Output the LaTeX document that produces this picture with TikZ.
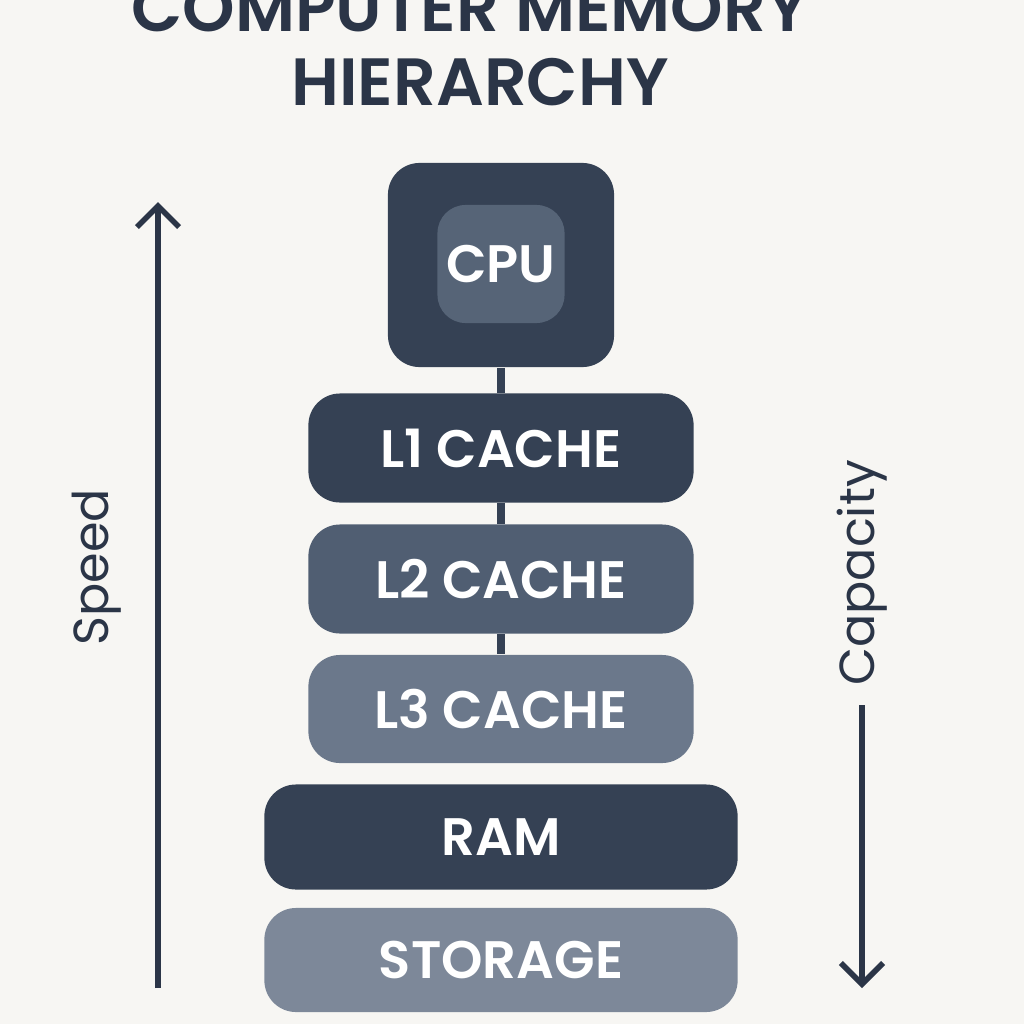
\documentclass[tikz,border=0pt]{standalone}
\usepackage{fontspec}
\setmainfont{Poppins}[BoldFont={Poppins SemiBold}]
\usetikzlibrary{arrows.meta}
\definecolor{bgcol}{HTML}{F7F6F3}
\definecolor{navy}{HTML}{2B3547}
\definecolor{tierA}{HTML}{354154}
\definecolor{tierB}{HTML}{505E72}
\definecolor{tierC}{HTML}{6B788B}
\definecolor{tierD}{HTML}{7D8899}
\definecolor{cpuin}{HTML}{566477}

\tikzset{
  tier/.style={rounded corners=9pt, text=white, font=\fontsize{15}{18}\selectfont\bfseries, inner sep=0pt},
  link/.style={draw=tierA, line width=2.5pt}
}

\begin{document}
\begin{tikzpicture}[x=0.01cm, y=-0.01cm]
            \fill[bgcol] (0,0) rectangle (1024,1024);
            \useasboundingbox (0,0) rectangle (1024,1024);

            \node[navy, font=\fontsize{19}{22}\selectfont\bfseries] (title1) at (470,8) {COMPUTER MEMORY};
            \node[navy, font=\fontsize{19}{22}\selectfont\bfseries] (title2) at (480,82) {HIERARCHY};

            \node[tier, fill=tierA, minimum width=2.26cm, minimum height=2.04cm] (cpu) at (501,265) {};
            \node[tier, fill=cpuin, rounded corners=8pt, minimum width=1.27cm, minimum height=1.18cm] (cpuin) at (501,264) {CPU};
            \node[tier, fill=tierA, minimum width=3.85cm, minimum height=1.09cm] (l1) at (501,448) {L1 CACHE};
            \node[tier, fill=tierB, minimum width=3.85cm, minimum height=1.09cm] (l2) at (501,579) {L2 CACHE};
            \node[tier, fill=tierC, minimum width=3.85cm, minimum height=1.08cm] (l3) at (501,709) {L3 CACHE};
            \node[tier, fill=tierA, minimum width=4.73cm, minimum height=1.05cm] (ram) at (501,837) {RAM};
            \node[tier, fill=tierD, minimum width=4.73cm, minimum height=1.04cm] (storage) at (501,960) {STORAGE};

            \draw[link] (cpu) -- (l1);
            \draw[link] (l1) -- (l2);
            \draw[link] (l2) -- (l3);

            % speed axis
            \coordinate (spbot) at (158,988);
            \coordinate (sptop) at (158,202);
            \draw[navy, line width=1.6pt, -{Straight Barb[length=6pt, width=12pt]}] (spbot) -- (sptop);
            \node[navy, rotate=90, font=\fontsize{14}{17}\selectfont] (speed) at (97,567) {Speed};

            % capacity axis
            \node[navy, rotate=90, font=\fontsize{14}{17}\selectfont, inner sep=2pt] (capacity) at (862,573) {Capacity};
            \coordinate (capbot) at (862,988);
            \draw[navy, line width=1.6pt, -{Straight Barb[length=6pt, width=12pt]}] (capacity.west) ++(0,12) -- (capbot);
        \end{tikzpicture}
\end{document}
